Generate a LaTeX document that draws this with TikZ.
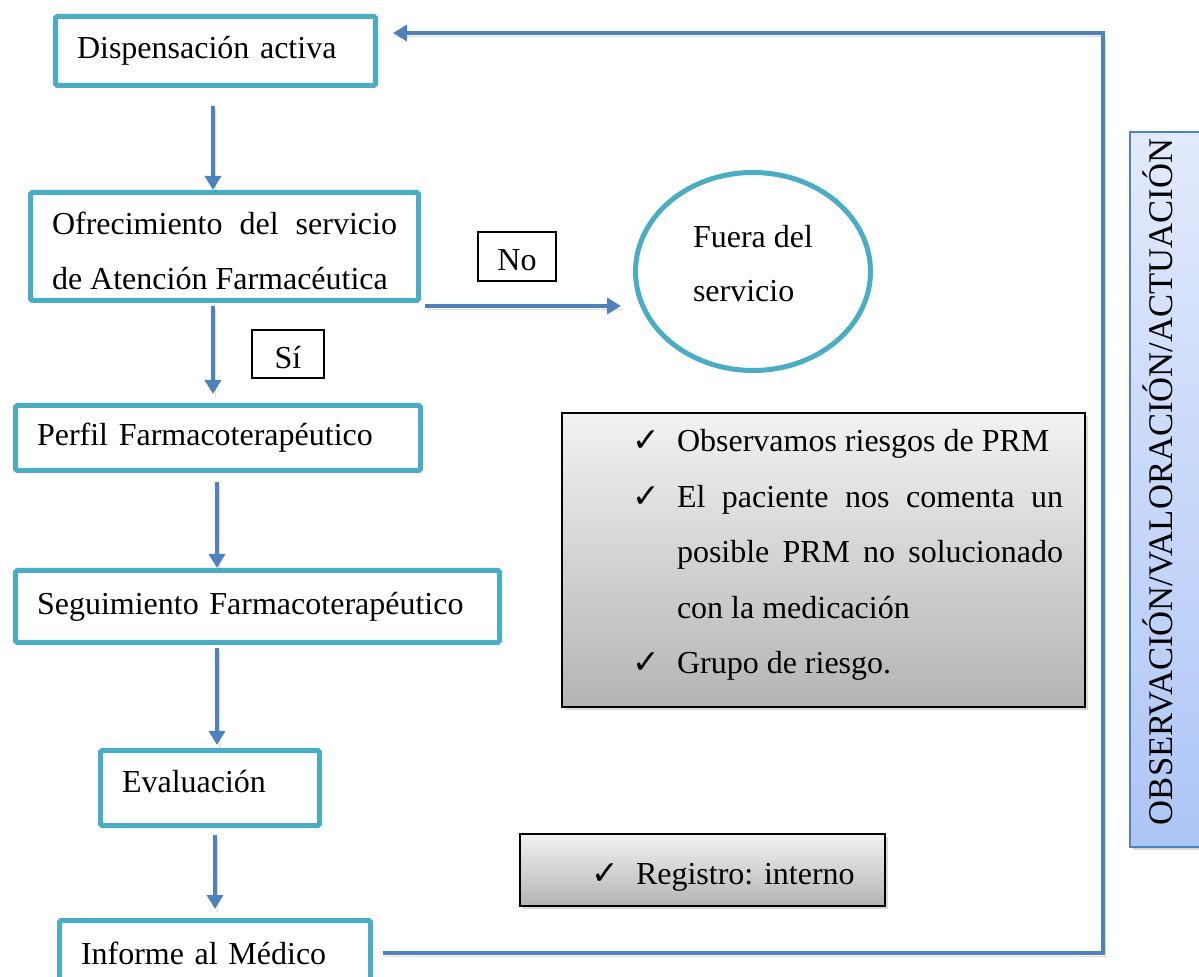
\documentclass[tikz,border=0pt]{standalone}
\usepackage{fontspec}
\setmainfont{Liberation Serif}
\newfontfamily\symfont{DejaVu Sans}
\usetikzlibrary{arrows.meta,calc,shapes.geometric,shadows}

\definecolor{aqua}{HTML}{4BACC6}
\definecolor{flowblue}{HTML}{4F81BD}
\definecolor{panelTop}{HTML}{F2F2F2}
\definecolor{panelBot}{HTML}{B4B4B4}
\definecolor{sideL}{HTML}{E2EAFC}
\definecolor{sideR}{HTML}{AEC6F6}

% check mark set in a fixed-width box, hung into the left margin
\newcommand{\chk}{\leavevmode\llap{\makebox[22.5pt][l]{\symfont\fontsize{16.5}{16.5}\selectfont ✓}}}

\tikzset{
  stage/.style={draw=aqua, line width=2.5pt, fill=white, rectangle,
    rounded corners=0.8pt, inner xsep=10.75pt, inner ysep=0pt,
    font=\fontsize{16}{27.5}\selectfont},
  tag/.style={draw=black, line width=1pt, fill=white, rectangle,
    inner sep=0pt, text height=14.5pt, text depth=0pt,
    font=\fontsize{16}{19}\selectfont},
  panel/.style={draw=black, line width=1pt, rectangle,
    top color=panelTop, bottom color=panelBot,
    drop shadow={shadow xshift=1.5pt, shadow yshift=-1.5pt, opacity=0.3},
    inner xsep=11pt, inner ysep=0pt, align=justify,
    font=\fontsize{16}{27.75}\selectfont},
  sidebar/.style={draw=flowblue, line width=1pt, rectangle,
    top color=sideL, bottom color=sideR,
    drop shadow={shadow xshift=1.5pt, shadow yshift=-1.5pt, opacity=0.3},
    font=\fontsize{17.3}{20}\selectfont, text depth=8pt},
  flow/.style={draw=flowblue, line width=2.4pt,
    -{Triangle[length=7pt,width=8pt]},
    preaction={draw=black, draw opacity=0.13, arrows=-,
      transform canvas={xshift=1.2pt,yshift=-1.6pt}}},
}

\begin{document}
\begin{tikzpicture}[x=0.5pt, y=-0.5pt]
\useasboundingbox (0,0) rectangle (1199,977);

% process stages
\node[stage, text width=138.5pt, minimum height=34.5pt] (disp) at (215.5,51) {Dispensación activa};
\node[stage, text width=172.5pt, minimum height=54pt, align=justify, text height=16pt] (ofr) at (224.5,246.5)
  {Ofrecimiento del servicio\linebreak de Atención Farmacéutica};
\node[stage, text width=181pt, minimum height=32.5pt] (perf) at (218,438) {Perfil Farmacoterapéutico};
\node[stage, text width=220.5pt, minimum height=36pt] (seg) at (257.5,606.5) {Seguimiento Farmacoterapéutico};
\node[stage, text width=88pt, minimum height=37.5pt, text depth=7pt] (eval) at (210,788) {Evaluación};
\node[stage, text width=134pt, minimum height=32.5pt] (inf) at (215,953) {Informe al Médico};

% exit of the service
\node[ellipse, draw=aqua, line width=2.5pt, fill=white, minimum width=117.5pt,
  minimum height=99pt, align=left, text depth=8pt, font=\fontsize{16}{27}\selectfont] (fuera) at (753,271.5)
  {Fuera del\\servicio};

% answer tags
\node[tag, minimum width=39pt, minimum height=24.5pt] (no) at (517,256.5) {No};
\node[tag, minimum width=36pt, minimum height=24pt] (si) at (288,354) {Sí};

% notes
\node[panel, text width=239.5pt, minimum height=147pt, text depth=119.5pt] (obs) at (823.5,560)
  {\leftskip=46.5pt\hyphenpenalty=10000
   \chk Observamos riesgos de PRM\par
   \chk El paciente nos comenta un\linebreak posible PRM no solucionado\linebreak con la medicación\par
   \chk Grupo de riesgo.\par};
\node[panel, text width=160.5pt, minimum height=36pt, text height=18pt] (reg) at (702.5,870)
  {\leftskip=47pt\chk Registro: interno\par};

% side banner
\node[sidebar, rotate=90, minimum width=353.5pt, minimum height=35.5pt] (ova) at (1165.5,489.5)
  {\hspace*{7.5pt}OBSERVACIÓN/VALORACIÓN/ACTUACIÓN};

% main flow
\draw[flow] ($(disp.south)+(-1.25pt,-9pt)$) coordinate (a1) -- (a1 |- ofr.north);
\draw[flow, shorten >=4.5pt] ($(ofr.south)+(-5.75pt,-1.5pt)$) coordinate (a2) -- (a2 |- perf.north);
\draw[flow] ($(perf.south)+(-0.5pt,-4.5pt)$) coordinate (a3) -- (a3 |- seg.north);
\draw[flow, shorten >=1.5pt] ($(seg.south)+(-20.25pt,-1.5pt)$) coordinate (a4) -- (a4 |- eval.north);
\draw[flow, shorten >=4.5pt] ($(eval.south)+(2.5pt,-3.5pt)$) coordinate (a5) -- (a5 |- inf.north);

% refusal branch
\draw[flow] ($(ofr.south east)+(2pt,-1.5pt)$) coordinate (n0) -- ($(fuera.west |- n0)+(-6pt,0)$);

% feedback loop
\coordinate (fbk) at (1103,33);
\draw[flow] ($(inf.east)+(5pt,0)$) -| (fbk) -- ($(disp.east)+(7.5pt,9pt)$);
\end{tikzpicture}
\end{document}
